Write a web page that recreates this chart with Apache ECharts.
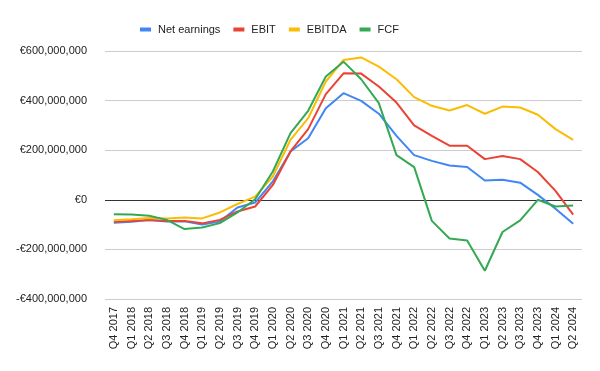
<!DOCTYPE html>
<html><head><meta charset="utf-8">
<script src="https://cdn.jsdelivr.net/npm/echarts@6/dist/echarts.min.js"></script>
<style>html,body{margin:0;padding:0;background:#fff}#c{width:600px;height:371px}</style>
</head><body><div id="c"></div>
<script>
const categories = ["Q4 2017","Q1 2018","Q2 2018","Q3 2018","Q4 2018","Q1 2019","Q2 2019","Q3 2019","Q4 2019","Q1 2020","Q2 2020","Q3 2020","Q4 2020","Q1 2021","Q2 2021","Q3 2021","Q4 2021","Q1 2022","Q2 2022","Q3 2022","Q4 2022","Q1 2023","Q2 2023","Q3 2023","Q4 2023","Q1 2024","Q2 2024"];
// values in millions of euro
const netEarnings = [-93,-89,-81,-88,-87,-100,-88,-31,-11,74,195,248,369,430,399,347,258,180,157,138,132,78,81,69,20,-36,-97];
const ebit = [-89,-85,-81,-85,-85,-95,-81,-47,-27,60,195,285,426,510,509,457,392,300,258,218,218,164,177,164,112,36,-60];
const ebitda = [-82,-78,-73,-75,-71,-75,-51,-17,13,94,242,329,477,564,574,537,486,414,379,360,382,347,376,372,343,285,242];
const fcf = [-58,-59,-64,-81,-118,-112,-94,-51,2,114,269,359,497,557,486,390,180,132,-85,-156,-164,-286,-130,-83,0,-27,-23];
const yTicks = [-400,-200,0,200,400,600];
const seriesNames = ["Net earnings","EBIT","EBITDA","FCF"];
const colors = ["#4285F4","#EA4335","#FBBC04","#34A853"];
const M = 1e6;
const toEuro = a => a.map(v => v * M);
const fmt = v => (v < 0 ? "-€" : "€") + Math.abs(v).toLocaleString("en-US");

const chart = echarts.init(document.getElementById("c"), null, {renderer: "canvas"});
const datas = [netEarnings, ebit, ebitda, fcf];
const series = datas.map((d, i) => ({
  name: seriesNames[i], type: "line", data: toEuro(d), showSymbol: false, symbol: "none",
  lineStyle: {width: 2, color: colors[i]}, itemStyle: {color: colors[i]}, z: 3 + i,
  markLine: i === 0 ? {silent: true, symbol: "none", label: {show: false},
    lineStyle: {color: "#333", type: "solid", width: 1}, data: [{yAxis: 0}], z: 1} : undefined
}));
chart.setOption({
  animation: false,
  color: colors,
  textStyle: {fontFamily: "Liberation Sans, Arial, sans-serif"},
  legend: {top: 19, left: 135, icon: "rect", itemWidth: 11, itemHeight: 4, itemGap: 13,
    textStyle: {fontSize: 11, color: "#222", padding: [0, 0, 0, 2]}, data: seriesNames},
  grid: {left: 105, right: 18, top: 51, bottom: 72, containLabel: false},
  xAxis: {type: "category", data: categories, boundaryGap: true,
    axisLine: {show: false, onZero: false}, axisTick: {show: false},
    axisLabel: {rotate: 90, fontSize: 11, color: "#222", margin: 8, interval: 0}},
  yAxis: {type: "value", min: yTicks[0] * M, max: yTicks[yTicks.length - 1] * M, interval: 200 * M,
    axisLine: {show: false}, axisTick: {show: false},
    splitLine: {lineStyle: {color: "#cccccc", width: 1}},
    axisLabel: {fontSize: 11, color: "#222", margin: 18, formatter: fmt}},
  series: series
});
</script></body></html>
